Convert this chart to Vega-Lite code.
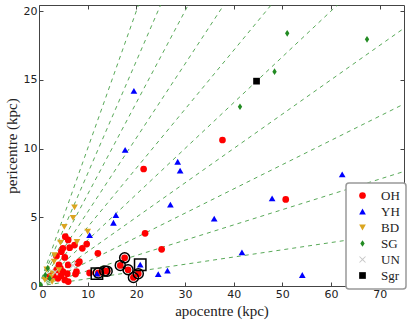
{
  "$schema": "https://vega.github.io/schema/vega-lite/v6.json",
  "width": 365,
  "height": 281,
  "autosize": {"type": "none"},
  "padding": {"left": 39, "top": 5, "right": 5, "bottom": 38},
  "config": {
    "view": {"stroke": "#444", "strokeWidth": 1},
    "axis": {"grid": false, "domain": false, "labelFont": "DejaVu Sans", "labelFontSize": 11, "labelColor": "#222", "tickColor": "#444", "tickSize": -4, "titleFont": "Liberation Serif", "titleFontSize": 15, "titleFontWeight": "normal", "titleColor": "#222"},
    "legend": {"orient": "none", "legendX": 307, "legendY": 178, "fillColor": "white", "strokeColor": "#999", "strokeWidth": 1.5, "padding": 6, "cornerRadius": 3, "labelFont": "Liberation Serif", "labelFontSize": 13, "labelColor": "#222", "rowPadding": 2, "symbolSize": 60, "symbolStrokeWidth": 0, "labelOffset": 12, "symbolOffset": 4}
  },
  "datasets": {
    "lines": [
      {"e": "0.0", "apo": 0, "peri": 0}, {"e": "0.0", "apo": 75, "peri": 75},
      {"e": "0.1", "apo": 0, "peri": 0}, {"e": "0.1", "apo": 75, "peri": 61.36},
      {"e": "0.2", "apo": 0, "peri": 0}, {"e": "0.2", "apo": 75, "peri": 50},
      {"e": "0.3", "apo": 0, "peri": 0}, {"e": "0.3", "apo": 75, "peri": 40.38},
      {"e": "0.4", "apo": 0, "peri": 0}, {"e": "0.4", "apo": 75, "peri": 32.14},
      {"e": "0.5", "apo": 0, "peri": 0}, {"e": "0.5", "apo": 75, "peri": 25},
      {"e": "0.6", "apo": 0, "peri": 0}, {"e": "0.6", "apo": 75, "peri": 18.75},
      {"e": "0.7", "apo": 0, "peri": 0}, {"e": "0.7", "apo": 75, "peri": 13.24},
      {"e": "0.8", "apo": 0, "peri": 0}, {"e": "0.8", "apo": 75, "peri": 8.33},
      {"e": "0.9", "apo": 0, "peri": 0}, {"e": "0.9", "apo": 75, "peri": 3.95}
    ],
    "pts": [
      {"grp": "OH", "apo": 37.7, "peri": 10.62, "ring": "none"},
      {"grp": "OH", "apo": 21.5, "peri": 8.51, "ring": "none"},
      {"grp": "OH", "apo": 50.7, "peri": 6.3, "ring": "none"},
      {"grp": "OH", "apo": 21.8, "peri": 3.83, "ring": "none"},
      {"grp": "OH", "apo": 25.2, "peri": 2.67, "ring": "none"},
      {"grp": "OH", "apo": 12.1, "peri": 2.38, "ring": "none"},
      {"grp": "OH", "apo": 9.8, "peri": 3.05, "ring": "none"},
      {"grp": "OH", "apo": 8.9, "peri": 2.74, "ring": "none"},
      {"grp": "OH", "apo": 8.3, "peri": 1.77, "ring": "none"},
      {"grp": "OH", "apo": 8.0, "peri": 1.65, "ring": "none"},
      {"grp": "OH", "apo": 7.3, "peri": 2.98, "ring": "none"},
      {"grp": "OH", "apo": 6.3, "peri": 2.79, "ring": "none"},
      {"grp": "OH", "apo": 5.4, "peri": 3.59, "ring": "none"},
      {"grp": "OH", "apo": 6.0, "peri": 3.35, "ring": "none"},
      {"grp": "OH", "apo": 4.9, "peri": 2.74, "ring": "none"},
      {"grp": "OH", "apo": 4.6, "peri": 2.5, "ring": "none"},
      {"grp": "OH", "apo": 5.3, "peri": 2.08, "ring": "none"},
      {"grp": "OH", "apo": 3.6, "peri": 2.18, "ring": "none"},
      {"grp": "OH", "apo": 6.0, "peri": 1.53, "ring": "none"},
      {"grp": "OH", "apo": 4.1, "peri": 1.53, "ring": "none"},
      {"grp": "OH", "apo": 4.4, "peri": 1.28, "ring": "none"},
      {"grp": "OH", "apo": 7.7, "peri": 1.04, "ring": "none"},
      {"grp": "OH", "apo": 7.5, "peri": 0.87, "ring": "none"},
      {"grp": "OH", "apo": 10.4, "peri": 0.95, "ring": "none"},
      {"grp": "OH", "apo": 2.9, "peri": 0.8, "ring": "none"},
      {"grp": "OH", "apo": 2.2, "peri": 0.68, "ring": "none"},
      {"grp": "OH", "apo": 5.3, "peri": 0.44, "ring": "none"},
      {"grp": "OH", "apo": 6.0, "peri": 0.32, "ring": "none"},
      {"grp": "OH", "apo": 3.9, "peri": 0.56, "ring": "none"},
      {"grp": "OH", "apo": 4.9, "peri": 1.04, "ring": "none"},
      {"grp": "OH", "apo": 3.6, "peri": 1.16, "ring": "none"},
      {"grp": "OH", "apo": 5.8, "peri": 0.9, "ring": "none"},
      {"grp": "OH", "apo": 4.5, "peri": 0.75, "ring": "none"},
      {"grp": "OH", "apo": 14.0, "peri": 1.08, "ring": "circle"},
      {"grp": "OH", "apo": 13.5, "peri": 1.1, "ring": "circle"},
      {"grp": "OH", "apo": 16.7, "peri": 1.5, "ring": "circle"},
      {"grp": "OH", "apo": 17.6, "peri": 2.05, "ring": "circle"},
      {"grp": "OH", "apo": 18.3, "peri": 1.18, "ring": "circle"},
      {"grp": "OH", "apo": 19.4, "peri": 0.62, "ring": "circle"},
      {"grp": "OH", "apo": 20.4, "peri": 0.9, "ring": "circle"},
      {"grp": "OH", "apo": 12.2, "peri": 0.95, "ring": "circle"},
      {"grp": "YH", "apo": 19.5, "peri": 14.2, "ring": "none"},
      {"grp": "YH", "apo": 17.7, "peri": 9.9, "ring": "none"},
      {"grp": "YH", "apo": 28.5, "peri": 9.04, "ring": "none"},
      {"grp": "YH", "apo": 29.0, "peri": 8.39, "ring": "none"},
      {"grp": "YH", "apo": 27.0, "peri": 5.92, "ring": "none"},
      {"grp": "YH", "apo": 15.8, "peri": 5.16, "ring": "none"},
      {"grp": "YH", "apo": 15.3, "peri": 4.6, "ring": "none"},
      {"grp": "YH", "apo": 10.4, "peri": 3.7, "ring": "none"},
      {"grp": "YH", "apo": 36.0, "peri": 4.9, "ring": "none"},
      {"grp": "YH", "apo": 47.9, "peri": 6.38, "ring": "none"},
      {"grp": "YH", "apo": 62.3, "peri": 8.12, "ring": "none"},
      {"grp": "YH", "apo": 41.7, "peri": 2.45, "ring": "none"},
      {"grp": "YH", "apo": 54.1, "peri": 0.8, "ring": "none"},
      {"grp": "YH", "apo": 24.5, "peri": 0.87, "ring": "none"},
      {"grp": "YH", "apo": 26.4, "peri": 1.12, "ring": "none"},
      {"grp": "YH", "apo": 20.8, "peri": 1.55, "ring": "square"},
      {"grp": "YH", "apo": 11.9, "peri": 0.9, "ring": "square"},
      {"grp": "BD", "apo": 7.3, "peri": 5.72, "ring": "none"},
      {"grp": "BD", "apo": 7.0, "peri": 4.95, "ring": "none"},
      {"grp": "BD", "apo": 5.2, "peri": 4.3, "ring": "none"},
      {"grp": "BD", "apo": 7.8, "peri": 3.2, "ring": "none"},
      {"grp": "BD", "apo": 10.0, "peri": 3.95, "ring": "none"},
      {"grp": "BD", "apo": 4.4, "peri": 3.15, "ring": "none"},
      {"grp": "BD", "apo": 3.1, "peri": 1.77, "ring": "none"},
      {"grp": "BD", "apo": 3.2, "peri": 2.25, "ring": "none"},
      {"grp": "BD", "apo": 1.6, "peri": 1.2, "ring": "none"},
      {"grp": "BD", "apo": 2.5, "peri": 0.68, "ring": "none"},
      {"grp": "BD", "apo": 1.2, "peri": 0.44, "ring": "none"},
      {"grp": "BD", "apo": 2.9, "peri": 0.92, "ring": "none"},
      {"grp": "BD", "apo": 4.1, "peri": 1.16, "ring": "none"},
      {"grp": "BD", "apo": 2.7, "peri": 0.31, "ring": "none"},
      {"grp": "SG", "apo": 51.0, "peri": 18.38, "ring": "none"},
      {"grp": "SG", "apo": 67.4, "peri": 17.94, "ring": "none"},
      {"grp": "SG", "apo": 48.4, "peri": 15.59, "ring": "none"},
      {"grp": "SG", "apo": 41.3, "peri": 13.04, "ring": "none"},
      {"grp": "SG", "apo": 0.3, "peri": 0.08, "ring": "none"},
      {"grp": "SG", "apo": 1.3, "peri": 0.8, "ring": "none"},
      {"grp": "SG", "apo": 1.8, "peri": 1.3, "ring": "none"},
      {"grp": "SG", "apo": 2.2, "peri": 0.55, "ring": "none"},
      {"grp": "UN", "apo": 7.0, "peri": 1.5, "ring": "none"},
      {"grp": "UN", "apo": 3.3, "peri": 1.0, "ring": "none"},
      {"grp": "Sgr", "apo": 44.7, "peri": 14.9, "ring": "none"}
    ]
  },
  "layer": [
    {
      "data": {"name": "lines"},
      "mark": {"type": "line", "clip": true, "color": "#3c9a3c", "strokeWidth": 1, "strokeDash": [4, 4], "opacity": 0.85},
      "encoding": {
        "x": {"field": "apo", "type": "quantitative", "scale": {"domain": [0, 75], "nice": false, "zero": false}, "axis": {"orient": "top", "labels": false, "title": null, "values": [0, 10, 20, 30, 40, 50, 60, 70]}},
        "y": {"field": "peri", "type": "quantitative", "scale": {"domain": [0, 20.44], "nice": false}, "axis": {"orient": "right", "labels": false, "title": null, "values": [0, 5, 10, 15, 20]}},
        "detail": {"field": "e"}
      }
    },
    {
      "data": {"name": "pts"},
      "mark": {"type": "point", "filled": true, "opacity": 1, "clip": true},
      "encoding": {
        "x": {"field": "apo", "type": "quantitative", "axis": {"orient": "bottom", "title": "apocentre (kpc)", "values": [0, 10, 20, 30, 40, 50, 60, 70], "labelPadding": 6, "titlePadding": 4}},
        "y": {"field": "peri", "type": "quantitative", "axis": {"orient": "left", "title": "pericentre (kpc)", "values": [0, 5, 10, 15, 20], "labelPadding": 6, "titlePadding": 4}},
        "color": {"field": "grp", "type": "nominal", "scale": {"domain": ["OH", "YH", "BD", "SG", "UN", "Sgr"], "range": ["#ff0000", "#0000ff", "#daa520", "#228b22", "#c8c8c8", "#000000"]}, "legend": {"title": null}},
        "shape": {"field": "grp", "type": "nominal", "scale": {"domain": ["OH", "YH", "BD", "SG", "UN", "Sgr"], "range": ["circle", "triangle-up", "triangle-down", "M0,-1L0.65,0L0,1L-0.65,0Z", "M-1,-0.8L-0.8,-1L0,-0.2L0.8,-1L1,-0.8L0.2,0L1,0.8L0.8,1L0,0.2L-0.8,1L-1,0.8L-0.2,0Z", "square"]}, "legend": {"title": null}},
        "size": {"field": "grp", "type": "nominal", "scale": {"domain": ["OH", "YH", "BD", "SG", "UN", "Sgr"], "range": [45, 45, 45, 72, 45, 45]}, "legend": null}
      }
    },
    {
      "data": {"name": "pts"},
      "transform": [{"filter": "datum.ring == 'circle'"}],
      "mark": {"type": "point", "shape": "circle", "filled": false, "color": "black", "strokeWidth": 1.5, "size": 100, "opacity": 1},
      "encoding": {
        "x": {"field": "apo", "type": "quantitative", "axis": null},
        "y": {"field": "peri", "type": "quantitative", "axis": null}
      }
    },
    {
      "data": {"name": "pts"},
      "transform": [{"filter": "datum.ring == 'square'"}],
      "mark": {"type": "point", "shape": "square", "filled": false, "color": "black", "strokeWidth": 1.5, "size": 130, "opacity": 1},
      "encoding": {
        "x": {"field": "apo", "type": "quantitative", "axis": null},
        "y": {"field": "peri", "type": "quantitative", "axis": null}
      }
    }
  ],
  "resolve": {"axis": {"x": "independent", "y": "independent"}}
}
